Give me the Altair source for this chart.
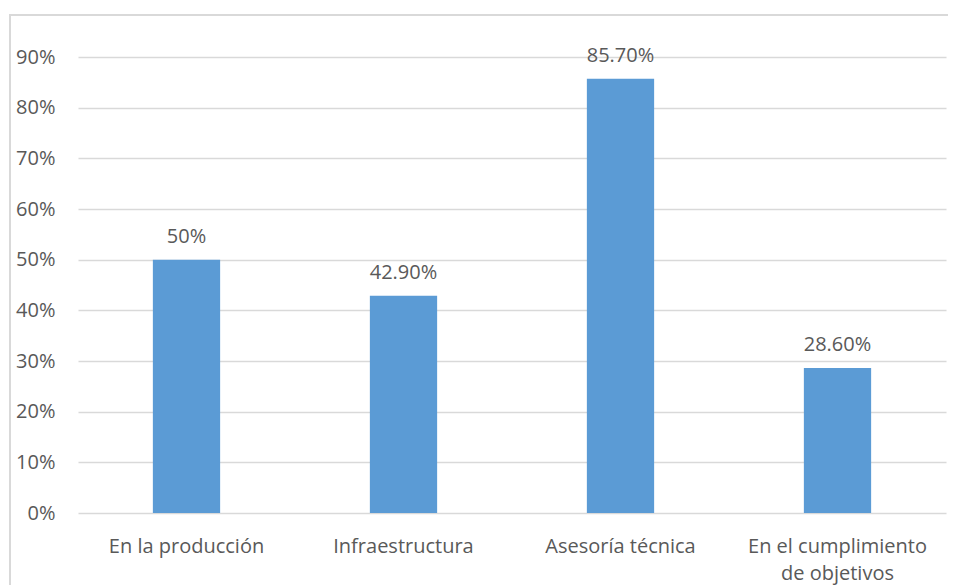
import altair as alt
import pandas as pd

categories = ["En la producción", "Infraestructura", "Asesoría técnica", "En el cumplimiento de objetivos"]
values = [0.50, 0.429, 0.857, 0.286]
labels = ["50%", "42.90%", "85.70%", "28.60%"]
y_ticks = [0, 0.1, 0.2, 0.3, 0.4, 0.5, 0.6, 0.7, 0.8, 0.9]

df = pd.DataFrame({"cat": categories, "val": values, "lab": labels})

FONT = "Open Sans"
TXT = "#595959"
FS = 20
W, H = 868, 456

x_enc = alt.X(
    "cat:N", sort=categories,
    scale=alt.Scale(paddingInner=0.69, paddingOuter=0.345),
    axis=alt.Axis(
        title=None, labelAngle=0, domain=False, ticks=False,
        labelFont=FONT, labelFontSize=FS, labelColor=TXT,
        labelPadding=23, labelLineHeight=27, labelLimit=300,
        labelExpr="datum.label == 'En el cumplimiento de objetivos' ? ['En el cumplimiento', 'de objetivos'] : datum.label",
    ),
)
y_enc = alt.Y(
    "val:Q",
    scale=alt.Scale(domain=[0, 0.9], nice=False),
    axis=alt.Axis(
        title=None, values=y_ticks, format=".0%", domain=False, ticks=False,
        labelFont=FONT, labelFontSize=FS, labelColor=TXT, labelPadding=23,
        grid=True, gridColor="#D9D9D9", gridWidth=1.3,
    ),
)

frame = alt.Chart(pd.DataFrame({"k": [0]})).mark_rect(
    fillOpacity=0, stroke="#D9D9D9", strokeWidth=2, clip=False
).encode(
    x=alt.value(-68), x2=alt.value(W + 60), y=alt.value(-42), y2=alt.value(H + 120)
)

bars = alt.Chart(df).mark_bar(color="#5B9BD5").encode(x=x_enc, y=y_enc)
text = alt.Chart(df).mark_text(
    baseline="alphabetic", dy=-17, font=FONT, fontSize=FS, color=TXT
).encode(x=alt.X("cat:N", sort=categories), y="val:Q", text="lab:N")

chart = alt.layer(bars, text, frame).properties(
    width=W, height=H,
    padding={"left": 70, "top": 49, "right": 2, "bottom": 72},
    autosize=alt.AutoSizeParams(type="none"),
).configure_view(stroke=None)

chart.save("out.html", embed_options={"renderer": "svg", "actions": False})
